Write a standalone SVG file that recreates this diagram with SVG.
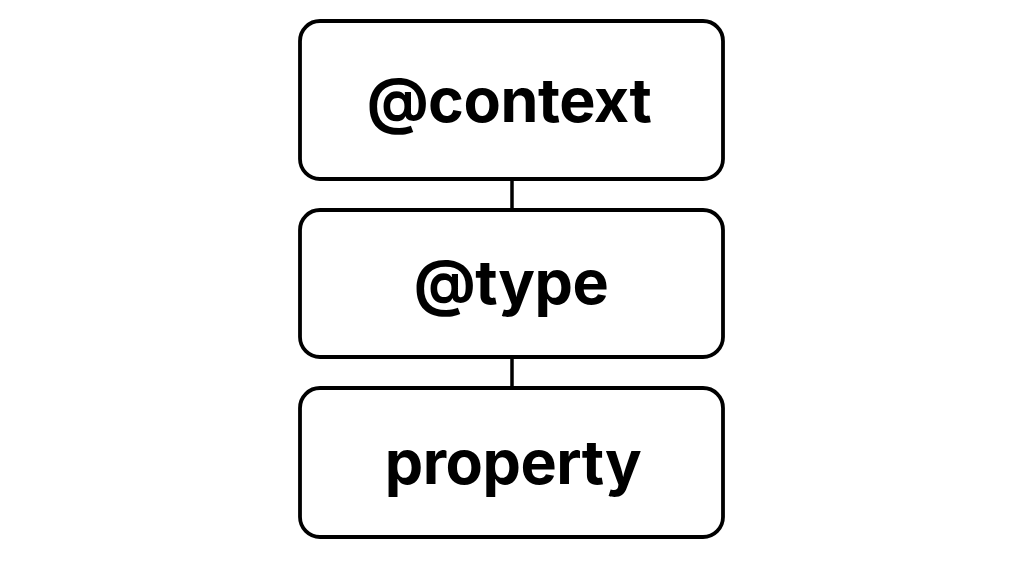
<svg xmlns="http://www.w3.org/2000/svg" width="1024" height="576" viewBox="0 0 1024 576">
<style>
.box{fill:#fff;stroke:#000;stroke-width:3.8}
.lbl{font-family:Inter,"Liberation Sans",Arial,sans-serif;font-weight:bold;font-size:61px;letter-spacing:-0.5px;text-anchor:middle;fill:#000}
.conn{stroke:#000;stroke-width:3.5;fill:none}
</style>
<rect width="1024" height="576" fill="#fff"/>
<g id="connectors">
<line class="conn" x1="512" y1="179" x2="512" y2="210"/>
<line class="conn" x1="512" y1="357" x2="512" y2="388"/>
</g>
<g id="context">
<rect class="box" x="300" y="21" width="423" height="158" rx="20"/>
<text class="lbl" x="509" y="122">@context</text>
</g>
<g id="type">
<rect class="box" x="300" y="210" width="423" height="147" rx="20"/>
<text class="lbl" x="511" y="304">@type</text>
</g>
<g id="property">
<rect class="box" x="300" y="388" width="423" height="149" rx="20"/>
<text class="lbl" x="513" y="484">property</text>
</g>
</svg>
